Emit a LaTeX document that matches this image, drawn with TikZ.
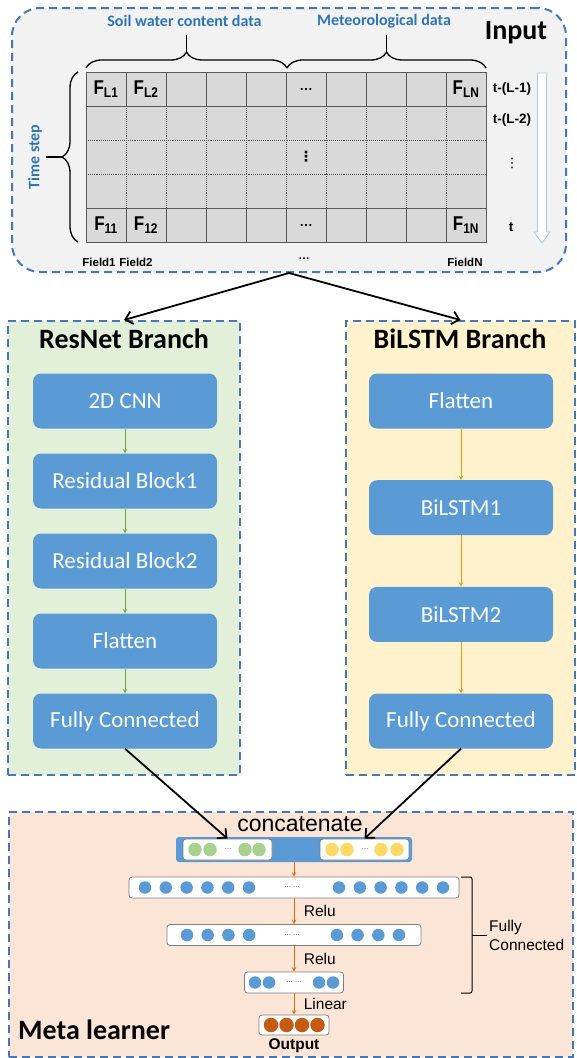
\documentclass[tikz,border=0pt]{standalone}
\usepackage{fontspec}
\setmainfont{Carlito}
\newfontfamily\arialfont{Liberation Sans}
\newfontfamily\cellfont[FakeStretch=0.85]{Liberation Sans}
\newfontfamily\symfont{DejaVu Sans}
\usetikzlibrary{shapes.geometric, arrows, arrows.meta, calc, positioning, decorations.pathreplacing}

\definecolor{inputgray}{HTML}{F2F2F2}
\definecolor{dashblue}{HTML}{4677B8}
\definecolor{resgreen}{HTML}{E2F0D9}
\definecolor{lstmyellow}{HTML}{FFF2CC}
\definecolor{metapeach}{HTML}{FBE5D6}
\definecolor{boxblue}{HTML}{5B9BD5}
\definecolor{labelblue}{HTML}{2E75B6}
\definecolor{cellgray}{HTML}{D9D9D9}
\definecolor{gridgray}{HTML}{595959}
\definecolor{arrowgreen}{HTML}{70AD47}
\definecolor{arrowgold}{HTML}{D4A017}
\definecolor{arroworange}{HTML}{E46C0A}
\definecolor{unitgreen}{HTML}{A9D18E}
\definecolor{unityellow}{HTML}{FFD966}
\definecolor{outorange}{HTML}{C55A11}
\definecolor{vecgray}{HTML}{7F7F7F}
\definecolor{hollowblue}{HTML}{ADC8E6}

\begin{document}
\begin{tikzpicture}[x=1pt, y=-1pt, node distance=80pt]
    \tikzstyle{panel} = [rectangle, draw=dashblue, line width=2pt, dash pattern=on 8pt off 5pt, inner sep=0pt]
    \tikzstyle{process} = [rectangle, rounded corners=8pt, fill=boxblue, text=white, minimum width=184pt, minimum height=55pt, font=\fontsize{23}{27}\selectfont]
    \tikzstyle{title} = [inner sep=0pt, font=\fontsize{28}{32}\selectfont\bfseries]
    \tikzstyle{bluelabel} = [inner sep=0pt, text=labelblue, font=\fontsize{16}{19}\selectfont\bfseries]
    \tikzstyle{cell} = [inner sep=0pt, font=\cellfont\bfseries\fontsize{20}{24}\selectfont]
    \tikzstyle{small} = [inner sep=0pt, font=\arialfont\bfseries\fontsize{13.5}{16}\selectfont]
    \tikzstyle{fieldlabel} = [inner sep=0pt, font=\arialfont\bfseries\fontsize{11.5}{14}\selectfont]
    \tikzstyle{plain} = [font=\arialfont\fontsize{15.5}{19}\selectfont]
    \tikzstyle{vector} = [rectangle, rounded corners=3pt, draw=vecgray, fill=white, line width=0.8pt, minimum height=21pt, inner sep=0pt]
    \tikzstyle{unit} = [circle, inner sep=0pt, minimum size=12.5pt]
    \tikzstyle{tinydots} = [inner sep=0pt, text=black!75, font=\arialfont\fontsize{7}{8}\selectfont]
    \tikzstyle{gridline} = [draw=gridgray, line width=0.9pt]
    \tikzstyle{greenarrow} = [draw=arrowgreen, line width=1pt, ->, >=stealth]
    \tikzstyle{goldarrow} = [draw=arrowgold, line width=1pt, ->, >=stealth]
    \tikzstyle{orangearrow} = [draw=arroworange, line width=1pt, ->, >=stealth]
    \tikzstyle{bigarrow} = [line width=1.8pt, -{Straight Barb[length=7pt, width=13pt]}]
    \tikzstyle{steplabel} = [plain, anchor=west, xshift=6pt]

    \useasboundingbox (0,0) rectangle (576,1058);

    \node (input) [panel, rounded corners=28pt, fill=inputgray, minimum width=554pt, minimum height=264pt] at (289,140) {};
    \node (resnet) [panel, fill=resgreen, minimum width=232pt, minimum height=454pt] at (124,548) {};
    \node (bilstm) [panel, fill=lstmyellow, minimum width=229pt, minimum height=454pt] at (460.5,548) {};
    \node (meta) [panel, fill=metapeach, minimum width=564pt, minimum height=245pt] at (291,934.5) {};

    \node (inputtitle) [title] at (516,33) {Input};
    \node (soil) [bluelabel] at (184.5,21) {Soil water content data};
    \node (meteo) [bluelabel] at (384,21) {Meteorological data};
    \node (timestep) [bluelabel, rotate=90] at (35,157) {Time step};

    \draw [decorate, decoration={brace, amplitude=16pt}, line width=1.3pt] (86,68) -- (287,68);
    \draw [decorate, decoration={brace, amplitude=16pt}, line width=1.3pt] (287,68) -- (486,68);
    \draw [line width=1.3pt] (186.5,52) -- (186.5,35);
    \draw [line width=1.3pt] (386.5,52) -- (386.5,35);
    \draw [decorate, decoration={brace, amplitude=16pt}, line width=1.3pt] (78,242) -- (78,72);
    \draw [line width=1.3pt] (62,157) -- (46,157);

    \fill [cellgray] (86,72) rectangle (486,242);
    \foreach \x in {126,166,...,446} {
        \draw [gridline] (\x,72) -- (\x,106);
        \draw [gridline] (\x,208) -- (\x,242);
        \draw [gridline, densely dotted] (\x,106) -- (\x,208);
    }
    \draw [gridline] (86,106) -- (486,106);
    \draw [gridline] (86,208) -- (486,208);
    \draw [gridline, densely dotted] (86,140) -- (486,140);
    \draw [gridline, densely dotted] (86,174) -- (486,174);
    \draw [gridline] (86,72) rectangle (486,242);

    \node (fl1) [cell] at (106,89) {F\textsubscript{L1}};
    \node (fl2) [cell] at (146,89) {F\textsubscript{L2}};
    \node (fldots) [small] at (306,89) {…};
    \node (fln) [cell] at (466,89) {F\textsubscript{LN}};
    \node (fvdots) [inner sep=0pt, font=\symfont\bfseries\fontsize{14}{16}\selectfont] at (306,157) {⋮};
    \node (f11) [cell] at (106,225) {F\textsubscript{11}};
    \node (f12) [cell] at (146,225) {F\textsubscript{12}};
    \node (f1dots) [small] at (306,225) {…};
    \node (f1n) [cell] at (466,225) {F\textsubscript{1N}};

    \node (tl1) [small] at (512,89) {t-(L-1)};
    \node (tl2) [small] at (512,120) {t-(L-2)};
    \node (tdots) [inner sep=0pt, font=\symfont\fontsize{13}{15}\selectfont] at (512,163) {⋮};
    \node (tt) [small] at (511,227) {t};
    \draw [draw=hollowblue, fill=white, line width=0.8pt] (537.5,73) -- (537.5,232) -- (534,232) -- (542,243) -- (550,232) -- (546.5,232) -- (546.5,73) -- cycle;

    \node (field1) [fieldlabel] at (99,262) {Field1};
    \node (field2) [fieldlabel] at (136,262) {Field2};
    \node (fielddots) [fieldlabel] at (304,259) {…};
    \node (fieldn) [fieldlabel] at (465,262) {FieldN};

    \node (restitle) [title] at (124,339) {ResNet Branch};
    \node (lstmtitle) [title] at (460,339) {BiLSTM Branch};

    \node (cnn) [process] at (125,401) {2D CNN};
    \node (res1) [process, below of=cnn] {Residual Block1};
    \node (res2) [process, below of=res1] {Residual Block2};
    \node (flat1) [process, below of=res2] {Flatten};
    \node (fcres) [process, below of=flat1] {Fully Connected};

    \node (flat2) [process] at (461,401) {Flatten};
    \node (lstm1) [process, below of=flat2, yshift=-26.7pt] {BiLSTM1};
    \node (lstm2) [process, below of=lstm1, yshift=-26.7pt] {BiLSTM2};
    \node (fclstm) [process, below of=lstm2, yshift=-26.6pt] {Fully Connected};

    \draw [greenarrow] (cnn) -- (res1);
    \draw [greenarrow] (res1) -- (res2);
    \draw [greenarrow] (res2) -- (flat1);
    \draw [greenarrow] (flat1) -- (fcres);
    \draw [goldarrow] (flat2) -- (lstm1);
    \draw [goldarrow] (lstm1) -- (lstm2);
    \draw [goldarrow] (lstm2) -- (fclstm);

    \node (metatitle) [title, anchor=west] at (18,1030) {Meta learner};
    \node (concattext) [inner sep=0pt, font=\arialfont\fontsize{23}{27}\selectfont] at (300,824) {concatenate};
    \node (concat) [rectangle, rounded corners=3pt, fill=boxblue, minimum width=236pt, minimum height=25pt] at (294,849.5) {};
    \node (greenvec) [vector, minimum width=89pt] at (227.5,849.5) {};
    \node (yellowvec) [vector, minimum width=89pt] at (364.5,849.5) {};
    \foreach \x [count=\i] in {195,210,245,259}
        \node (g\i) [unit, fill=unitgreen, minimum size=13.5pt] at (\x,849.5) {};
    \foreach \x [count=\i] in {332,347,381,397}
        \node (y\i) [unit, fill=unityellow, minimum size=13.5pt] at (\x,849.5) {};
    \node (gdots) [tinydots] at (228,849.5) {…};
    \node (ydots) [tinydots] at (365,849.5) {…};

    \node (fc1) [vector, minimum width=330pt] at (294,887.5) {};
    \foreach \k in {0,...,5} {
        \node (fc1a\k) [unit, fill=boxblue] at ({145+20.8*\k},887.5) {};
        \node (fc1b\k) [unit, fill=boxblue] at ({443-20.8*\k},887.5) {};
    }
    \node (fc1dots) [tinydots] at (292,887.5) {… …};

    \node (fc2) [vector, minimum width=254pt] at (294,935) {};
    \foreach \k in {0,...,3} {
        \node (fc2a\k) [unit, fill=boxblue] at ({187+20.7*\k},935) {};
        \node (fc2b\k) [unit, fill=boxblue] at ({399-20.7*\k},935) {};
    }
    \node (fc2dots) [tinydots] at (292,935) {… …};

    \node (fc3) [vector, minimum width=99pt] at (294,982.5) {};
    \foreach \x [count=\i] in {255,269,319,333}
        \node (fc3u\i) [unit, fill=boxblue] at (\x,982.5) {};
    \node (fc3dots) [tinydots] at (294,982.5) {… …};

    \node (outbox) [vector, minimum width=70pt, minimum height=20pt] at (294,1025) {};
    \foreach \x [count=\i] in {271,286.5,302,317.5}
        \node (out\i) [unit, fill=outorange, minimum size=14.5pt] at (\x,1025) {};
    \node (outlabel) [inner sep=0pt, font=\arialfont\bfseries\fontsize{15.5}{18}\selectfont] at (294,1046) {Output};

    \draw [orangearrow] (concat) -- (fc1);
    \draw [orangearrow] (fc1) -- node [steplabel] (relu1) {Relu} (fc2);
    \draw [orangearrow] (fc2) -- node [steplabel] (relu2) {Relu} (fc3);
    \draw [orangearrow] (fc3) -- node [steplabel] (linear) {Linear} (outbox);

    \draw [line width=1pt, rounded corners=2pt] (461,877) -- (472,877) -- (472,993) -- (461,993);
    \draw [line width=1pt] (472,935) -- (487,935);
    \node (fclabel) [plain, anchor=west, align=left, inner sep=2pt] at (487,935) {Fully\\Connected};

    \draw [bigarrow] (input.south) -- (resnet.north);
    \draw [bigarrow] (input.south) -- (bilstm.north);
    \draw [bigarrow] (fcres.south) -- (greenvec.north);
    \draw [bigarrow] (fclstm.south) -- (yellowvec.north);
\end{tikzpicture}
\end{document}
